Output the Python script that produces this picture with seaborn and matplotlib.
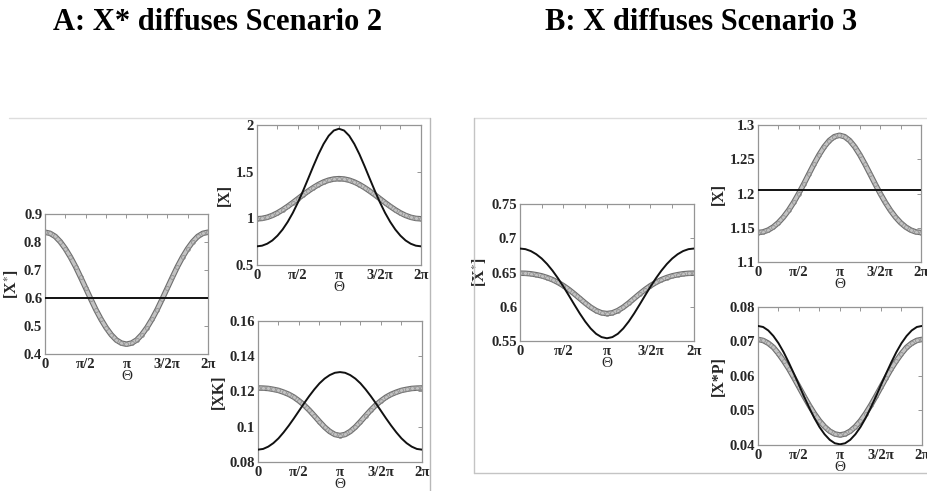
import numpy as np
import pandas as pd
import matplotlib
matplotlib.use("Agg")
import matplotlib.pyplot as plt
import matplotlib.patheffects as pe
from matplotlib.lines import Line2D
from matplotlib.ticker import MultipleLocator
import seaborn as sns

sns.set_theme(style="white")
plt.rcParams["font.family"] = ["Liberation Serif", "DejaVu Serif"]
plt.rcParams["mathtext.fontset"] = "stix"

# sampling angle, 0 .. 2*pi in steps of pi/16
theta = np.linspace(0, 2 * np.pi, 33)

# Scenario 2 (X* diffuses)
a_xstar_open = [0.835, 0.831, 0.820, 0.801, 0.776, 0.746, 0.712, 0.674, 0.635,
                0.596, 0.558, 0.524, 0.494, 0.469, 0.450, 0.439, 0.435,
                0.439, 0.450, 0.469, 0.494, 0.524, 0.558, 0.596, 0.635,
                0.674, 0.712, 0.746, 0.776, 0.801, 0.820, 0.831, 0.835]
a_xstar_solid = [0.60, 0.60, 0.60, 0.60, 0.60, 0.60, 0.60, 0.60, 0.60,
                 0.60, 0.60, 0.60, 0.60, 0.60, 0.60, 0.60, 0.60,
                 0.60, 0.60, 0.60, 0.60, 0.60, 0.60, 0.60, 0.60,
                 0.60, 0.60, 0.60, 0.60, 0.60, 0.60, 0.60, 0.60]
a_x_open = [0.995, 0.999, 1.011, 1.031, 1.058, 1.091, 1.128, 1.168, 1.210,
            1.252, 1.292, 1.329, 1.362, 1.389, 1.409, 1.421, 1.425,
            1.421, 1.409, 1.389, 1.362, 1.329, 1.292, 1.252, 1.210,
            1.168, 1.128, 1.091, 1.058, 1.031, 1.011, 0.999, 0.995]
a_x_solid = [0.700, 0.707, 0.728, 0.763, 0.814, 0.880, 0.962, 1.059, 1.171,
             1.295, 1.426, 1.559, 1.686, 1.797, 1.885, 1.941, 1.960,
             1.941, 1.885, 1.797, 1.686, 1.559, 1.426, 1.295, 1.171,
             1.059, 0.962, 0.880, 0.814, 0.763, 0.728, 0.707, 0.700]
a_xk_open = [0.1220, 0.1219, 0.1217, 0.1212, 0.1206, 0.1196, 0.1184, 0.1168, 0.1147,
             0.1123, 0.1094, 0.1062, 0.1029, 0.0998, 0.0973, 0.0956, 0.0950,
             0.0956, 0.0973, 0.0998, 0.1029, 0.1062, 0.1094, 0.1123, 0.1147,
             0.1168, 0.1184, 0.1196, 0.1206, 0.1212, 0.1217, 0.1219, 0.1220]
a_xk_solid = [0.0870, 0.0874, 0.0887, 0.0907, 0.0934, 0.0968, 0.1006, 0.1047, 0.1090,
              0.1133, 0.1174, 0.1212, 0.1246, 0.1273, 0.1293, 0.1306, 0.1310,
              0.1306, 0.1293, 0.1273, 0.1246, 0.1212, 0.1174, 0.1133, 0.1090,
              0.1047, 0.1006, 0.0968, 0.0934, 0.0907, 0.0887, 0.0874, 0.0870]

# Scenario 3 (X diffuses)
b_xstar_open = [0.6490, 0.6488, 0.6481, 0.6468, 0.6451, 0.6426, 0.6395, 0.6355, 0.6307,
                0.6251, 0.6188, 0.6121, 0.6054, 0.5993, 0.5944, 0.5911, 0.5900,
                0.5911, 0.5944, 0.5993, 0.6054, 0.6121, 0.6188, 0.6251, 0.6307,
                0.6355, 0.6395, 0.6426, 0.6451, 0.6468, 0.6481, 0.6488, 0.6490]
b_xstar_solid = [0.6850, 0.6841, 0.6813, 0.6767, 0.6704, 0.6623, 0.6526, 0.6415, 0.6293,
                 0.6163, 0.6031, 0.5902, 0.5784, 0.5683, 0.5605, 0.5557, 0.5540,
                 0.5557, 0.5605, 0.5683, 0.5784, 0.5902, 0.6031, 0.6163, 0.6293,
                 0.6415, 0.6526, 0.6623, 0.6704, 0.6767, 0.6813, 0.6841, 0.6850]
b_x_open = [1.1430, 1.1439, 1.1466, 1.1511, 1.1574, 1.1655, 1.1754, 1.1870, 1.2000,
            1.2140, 1.2286, 1.2430, 1.2565, 1.2682, 1.2773, 1.2830, 1.2850,
            1.2830, 1.2773, 1.2682, 1.2565, 1.2430, 1.2286, 1.2140, 1.2000,
            1.1870, 1.1754, 1.1655, 1.1574, 1.1511, 1.1466, 1.1439, 1.1430]
b_x_solid = [1.205, 1.205, 1.205, 1.205, 1.205, 1.205, 1.205, 1.205, 1.205,
             1.205, 1.205, 1.205, 1.205, 1.205, 1.205, 1.205, 1.205,
             1.205, 1.205, 1.205, 1.205, 1.205, 1.205, 1.205, 1.205,
             1.205, 1.205, 1.205, 1.205, 1.205, 1.205, 1.205, 1.205]
b_xp_open = [0.0706, 0.0703, 0.0695, 0.0683, 0.0665, 0.0644, 0.0621, 0.0595, 0.0568,
             0.0541, 0.0515, 0.0491, 0.0470, 0.0453, 0.0440, 0.0432, 0.0429,
             0.0432, 0.0440, 0.0453, 0.0470, 0.0491, 0.0515, 0.0541, 0.0568,
             0.0595, 0.0621, 0.0644, 0.0665, 0.0683, 0.0695, 0.0703, 0.0706]
b_xp_solid = [0.0745, 0.0742, 0.0732, 0.0716, 0.0695, 0.0669, 0.0639, 0.0607, 0.0574,
              0.0540, 0.0508, 0.0478, 0.0452, 0.0431, 0.0415, 0.0405, 0.0402,
              0.0405, 0.0415, 0.0431, 0.0452, 0.0478, 0.0508, 0.0540, 0.0574,
              0.0607, 0.0639, 0.0669, 0.0695, 0.0716, 0.0732, 0.0742, 0.0745]

x_tick_pos = [0, np.pi / 2, np.pi, 3 * np.pi / 2, 2 * np.pi]
x_tick_labels = ["0", "\u03c0/2", "\u03c0", "3/2\u03c0", "2\u03c0"]

panels = [
    # (axes rect, open series, solid series, ylim, yticks, ytick labels, ylabel)
    ([0.0485, 0.2790, 0.1756, 0.2851], a_xstar_open, a_xstar_solid, (0.4, 0.9),
     [0.4, 0.5, 0.6, 0.7, 0.8, 0.9], ["0.4", "0.5", "0.6", "0.7", "0.8", "0.9"], "[X$^{*}$]"),
    ([0.2769, 0.4603, 0.1767, 0.2851], a_x_open, a_x_solid, (0.5, 2.0),
     [0.5, 1.0, 1.5, 2.0], ["0.5", "1", "1.5", "2"], "[X]"),
    ([0.2780, 0.0591, 0.1767, 0.2872], a_xk_open, a_xk_solid, (0.08, 0.16),
     [0.08, 0.10, 0.12, 0.14, 0.16], ["0.08", "0.1", "0.12", "0.14", "0.16"], "[XK]"),
    ([0.5603, 0.3055, 0.1875, 0.2790], b_xstar_open, b_xstar_solid, (0.55, 0.75),
     [0.55, 0.60, 0.65, 0.70, 0.75], ["0.55", "0.6", "0.65", "0.7", "0.75"], "[X$^{*}$]"),
    ([0.8168, 0.4664, 0.1756, 0.2790], b_x_open, b_x_solid, (1.1, 1.3),
     [1.10, 1.15, 1.20, 1.25, 1.30], ["1.1", "1.15", "1.2", "1.25", "1.3"], "[X]"),
    ([0.8168, 0.0937, 0.1767, 0.2811], b_xp_open, b_xp_solid, (0.04, 0.08),
     [0.04, 0.05, 0.06, 0.07, 0.08], ["0.04", "0.05", "0.06", "0.07", "0.08"], "[X*P]"),
]

fig = plt.figure(figsize=(9.28, 4.91), dpi=100)
fig.patch.set_facecolor("white")

spine_col = "#959595"
tick_font = dict(family=["Liberation Serif"], size=10.5, weight="bold")
band_fx = [pe.Stroke(linewidth=4.0, foreground="#6e6e6e"), pe.Normal()]

for rect, open_vals, solid_vals, ylim, yt, ytl, ylab in panels:
    ax = fig.add_axes(rect)
    df = pd.DataFrame({"theta": theta, "open": open_vals, "solid": solid_vals})
    # densely packed open circles: a grey outlined band with faint rings on top
    sns.lineplot(data=df, x="theta", y="open", ax=ax, color="#c2c2c2", lw=2.4, zorder=2)
    ax.lines[-1].set_path_effects(band_fx)
    sns.lineplot(data=df, x="theta", y="open", ax=ax, linestyle="", marker="o",
                 markersize=2.8, markerfacecolor="none", markeredgecolor="#8a8a8a",
                 markeredgewidth=0.5, zorder=2.5)
    sns.lineplot(data=df, x="theta", y="solid", ax=ax, color="#111111", lw=1.4, zorder=3)
    ax.set_xlim(0, 2 * np.pi)
    ax.set_ylim(*ylim)
    ax.set_xticks(x_tick_pos)
    ax.set_xticklabels(x_tick_labels, fontdict=tick_font)
    ax.xaxis.set_minor_locator(MultipleLocator(np.pi / 4))
    ax.set_yticks(yt)
    ax.set_yticklabels(ytl, fontdict=tick_font)
    ax.tick_params(axis="both", which="both", direction="in", top=True, right=True,
                   color=spine_col, length=3, width=0.7, pad=2)
    ax.tick_params(axis="x", which="major", pad=3)
    ax.set_xlabel("\u0398", fontsize=11, family=["Liberation Serif"], labelpad=-1)
    ax.set_ylabel(ylab, fontsize=11.5, family=["Liberation Serif"], weight="bold", labelpad=2)
    for s in ax.spines.values():
        s.set_color(spine_col)
        s.set_linewidth(0.9)
    ax.set_facecolor("white")

# panel titles
title_font = dict(family=["Liberation Serif"], size=22, weight="bold", color="black")
fig.text(218 / 928, 1 - 22 / 491, "A: X* diffuses Scenario 2", ha="center", va="center", **title_font)
fig.text(701 / 928, 1 - 22 / 491, "B: X diffuses Scenario 3", ha="center", va="center", **title_font)

# thin panel frames
W, H = 928.0, 491.0
def frame_line(x0, y0, x1, y1, col):
    fig.add_artist(Line2D([x0 / W, x1 / W], [1 - y0 / H, 1 - y1 / H],
                          color=col, lw=1.0, transform=fig.transFigure))

frame_line(9, 118, 430, 118, "#dddddd")
frame_line(430, 118, 430, 491, "#b8b8b8")
frame_line(474, 118, 928, 118, "#dddddd")
frame_line(474, 118, 474, 473, "#c4c4c4")
frame_line(474, 473, 928, 473, "#c4c4c4")

fig.savefig("out.png", dpi=100, facecolor="white")
